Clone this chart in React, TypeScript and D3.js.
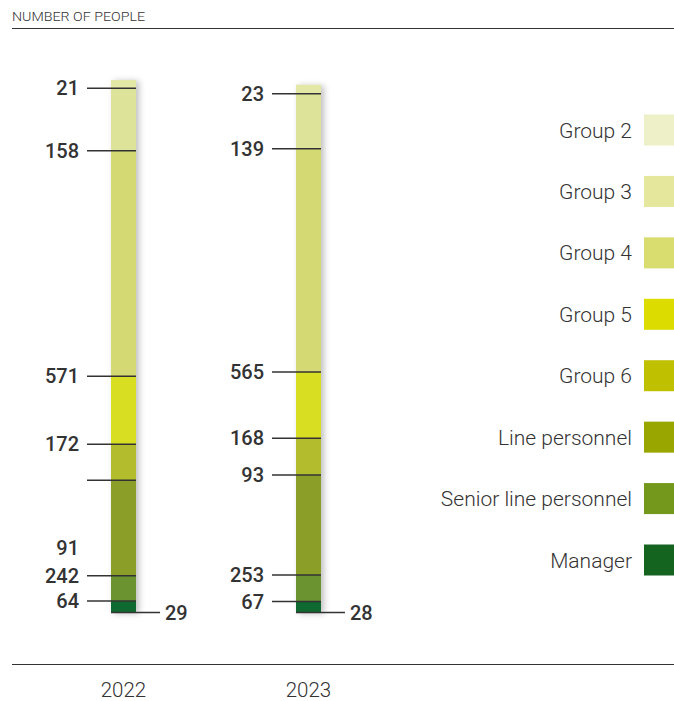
import React from "react";
import * as d3 from "d3";

const years = ["2022", "2023"];
const categories = [
  "Group 2",
  "Group 3",
  "Group 4",
  "Group 5",
  "Group 6",
  "Line personnel",
  "Senior line personnel",
  "Manager",
];
const values2022 = [21, 158, 571, 172, 91, 242, 64, 29];
const values2023 = [23, 139, 565, 168, 93, 253, 67, 28];
const legendColors = [
  "#eef0c8",
  "#e5e79c",
  "#d9dc6e",
  "#dcdc00",
  "#bfc000",
  "#9aa600",
  "#74981c",
  "#146420",
];
const barColors = [
  "#e3e8a6",
  "#dde398",
  "#d4d974",
  "#d8df22",
  "#b2bc2c",
  "#8a9e28",
  "#6b9430",
  "#0e6a30",
];

const W = 674;
const H = 701;
const TXT = "#333333";

export default function App() {
  const series = [values2022, values2023];
  const maxTotal = d3.max(series, (s) => d3.sum(s)) as number;
  const y = d3.scaleLinear().domain([0, maxTotal]).range([612.5, 80]);
  const x = d3.scalePoint<string>().domain(years).range([123.5, 308.5]);
  const legendY = d3.scalePoint<string>().domain(categories).range([130, 560]);
  const barW = 25;

  const stacks = series.map((vals) => {
    // stack from bottom: reverse order (Manager at bottom)
    let acc = 0;
    const out: { i: number; y0: number; y1: number; v: number }[] = [];
    for (let i = vals.length - 1; i >= 0; i--) {
      out.push({ i, y0: acc, y1: acc + vals[i], v: vals[i] });
      acc += vals[i];
    }
    return out;
  });

  return (
    <svg width={W} height={H} style={{ display: "block", position: "absolute", left: 0, top: 0 }}>
      <defs>
        <filter id="shadow" x="-50%" y="-5%" width="200%" height="110%">
          <feDropShadow dx="3" dy="1" stdDeviation="3" floodColor="#000" floodOpacity="0.25" />
        </filter>
      </defs>
      <rect width={W} height={H} fill="#fff" />
      <text
        x={12}
        y={21}
        fontFamily="Roboto, sans-serif"
        fontWeight={300}
        fontSize={13.5}
        textLength={133}
        lengthAdjust="spacingAndGlyphs"
        fill={TXT}
      >
        NUMBER OF PEOPLE
      </text>
      <line x1={12} x2={W} y1={28.5} y2={28.5} stroke={TXT} strokeWidth={1} />
      <line x1={12} x2={W} y1={664.5} y2={664.5} stroke={TXT} strokeWidth={1} />

      {years.map((yr, k) => {
        const cx = x(yr) as number;
        const left = cx - barW / 2;
        const right = cx + barW / 2;
        const segs = stacks[k];
        const total = d3.sum(series[k]);
        return (
          <g key={yr}>
            <rect
              x={left}
              y={y(total)}
              width={barW}
              height={y(0) - y(total)}
              fill="#ddd"
              filter="url(#shadow)"
            />
            {segs.map((s) => (
              <rect
                key={s.i}
                x={left}
                y={y(s.y1)}
                width={barW}
                height={y(s.y0) - y(s.y1)}
                fill={barColors[s.i]}
              />
            ))}
            {segs.map((s) => {
              const isBottom = s.y0 === 0;
              const ty = y(s.y0);
              if (isBottom) {
                return (
                  <g key={"t" + s.i}>
                    <line x1={left} x2={right + 24} y1={ty} y2={ty} stroke={TXT} strokeWidth={1.5} />
                    <text
                      x={right + 29}
                      y={ty}
                      dy="0.36em"
                      fontFamily="Roboto, sans-serif"
                      fontWeight={500}
                      fontSize={20}
                      fill={TXT}
                    >
                      {s.v}
                    </text>
                  </g>
                );
              }
              // quirk of the original: the 2022 Group 6 label sits detached, lower than its tick
              const detached = k === 0 && categories[s.i] === "Group 6";
              const ly = detached ? y(s.y0) + 68 : ty;
              return (
                <g key={"t" + s.i}>
                  <line x1={left - 24} x2={right} y1={ty} y2={ty} stroke={TXT} strokeWidth={1.5} />
                  <text
                    x={left - 32}
                    y={ly}
                    dy="0.36em"
                    textAnchor="end"
                    fontFamily="Roboto, sans-serif"
                    fontWeight={500}
                    fontSize={20}
                    fill={TXT}
                  >
                    {s.v}
                  </text>
                </g>
              );
            })}
            <text
              x={cx}
              y={690}
              dy="0.36em"
              textAnchor="middle"
              fontFamily="Roboto, sans-serif"
              fontWeight={300}
              fontSize={20.5}
              fill={TXT}
            >
              {yr}
            </text>
          </g>
        );
      })}

      {categories.map((c, i) => {
        const cy = legendY(c) as number;
        return (
          <g key={c}>
            <rect x={644} y={cy - 15.5} width={30} height={31} fill={legendColors[i]} />
            <text
              x={632}
              y={cy}
              dy="0.36em"
              textAnchor="end"
              fontFamily="Roboto, sans-serif"
              fontWeight={300}
              fontSize={21}
              fill={TXT}
            >
              {c}
            </text>
          </g>
        );
      })}
    </svg>
  );
}
